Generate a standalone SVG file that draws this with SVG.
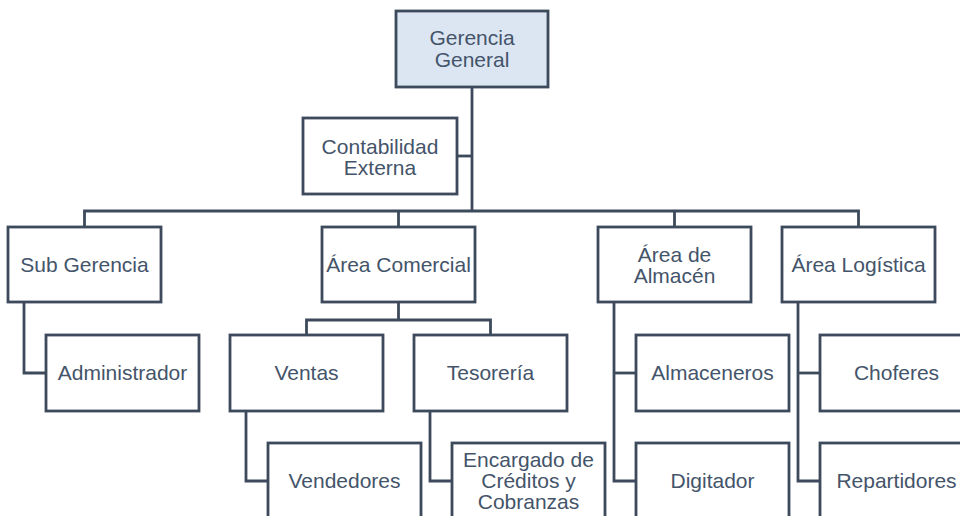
<svg xmlns="http://www.w3.org/2000/svg" width="960" height="516" viewBox="0 0 960 516">
<style>
.box{fill:#ffffff;stroke:#3d4a5c;stroke-width:2.8}
.top{fill:#dce6f2}
.t{font-family:"Liberation Sans",Arial,sans-serif;font-size:21px;fill:#44546a;text-anchor:middle}
.c{fill:none;stroke:#3d4a5c;stroke-width:2.8}
</style>
<rect width="960" height="516" fill="#ffffff"/>
<g id="connectors">
<path class="c" d="M472,87V211"/>
<path class="c" d="M457,156H472"/>
<path class="c" d="M84.5,227V211H858.5V227"/>
<path class="c" d="M398.5,211V227"/>
<path class="c" d="M674.5,211V227"/>
<path class="c" d="M24,302V373H46"/>
<path class="c" d="M398.5,302V320"/>
<path class="c" d="M306.5,335V320H490.5V335"/>
<path class="c" d="M246,411V481H268"/>
<path class="c" d="M430,411V481H452"/>
<path class="c" d="M614,302V481H636"/>
<path class="c" d="M614,373H636"/>
<path class="c" d="M798,302V481H820"/>
<path class="c" d="M798,373H820"/>
</g>
<g id="gerencia-general"><rect class="box top" x="396" y="11" width="152" height="76"/><text class="t" x="472" y="45">Gerencia</text><text class="t" x="472" y="67">General</text></g>
<g id="contabilidad-externa"><rect class="box" x="303" y="118" width="154" height="76"/><text class="t" x="380" y="154">Contabilidad</text><text class="t" x="380" y="175">Externa</text></g>
<g id="sub-gerencia"><rect class="box" x="8" y="227" width="153" height="75"/><text class="t" x="84.5" y="272">Sub Gerencia</text></g>
<g id="area-comercial"><rect class="box" x="322" y="227" width="153" height="75"/><text class="t" x="398.5" y="272">Área Comercial</text></g>
<g id="area-almacen"><rect class="box" x="598" y="227" width="153" height="75"/><text class="t" x="674.5" y="262">Área de</text><text class="t" x="674.5" y="283">Almacén</text></g>
<g id="area-logistica"><rect class="box" x="782" y="227" width="153" height="75"/><text class="t" x="858.5" y="272">Área Logística</text></g>
<g id="administrador"><rect class="box" x="46" y="335" width="153" height="76"/><text class="t" x="122.5" y="380">Administrador</text></g>
<g id="ventas"><rect class="box" x="230" y="335" width="153" height="76"/><text class="t" x="306.5" y="380">Ventas</text></g>
<g id="tesoreria"><rect class="box" x="414" y="335" width="153" height="76"/><text class="t" x="490.5" y="380">Tesorería</text></g>
<g id="almaceneros"><rect class="box" x="636" y="335" width="153" height="76"/><text class="t" x="712.5" y="380">Almaceneros</text></g>
<g id="choferes"><rect class="box" x="820" y="335" width="153" height="76"/><text class="t" x="896.5" y="380">Choferes</text></g>
<g id="vendedores"><rect class="box" x="268" y="443" width="153" height="76"/><text class="t" x="344.5" y="488">Vendedores</text></g>
<g id="encargado"><rect class="box" x="452" y="443" width="153" height="76"/><text class="t" x="528.5" y="467">Encargado de</text><text class="t" x="528.5" y="488">Créditos y</text><text class="t" x="528.5" y="509">Cobranzas</text></g>
<g id="digitador"><rect class="box" x="636" y="443" width="153" height="76"/><text class="t" x="712.5" y="488">Digitador</text></g>
<g id="repartidores"><rect class="box" x="820" y="443" width="153" height="76"/><text class="t" x="896.5" y="488">Repartidores</text></g>
</svg>
